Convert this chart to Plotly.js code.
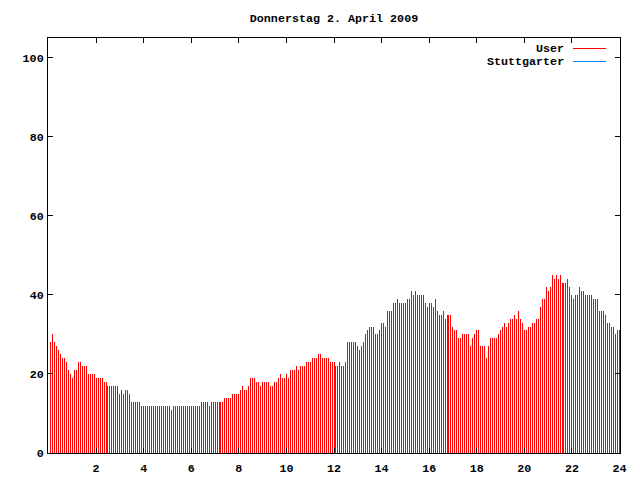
<!DOCTYPE html>
<html>
<head>
<meta charset="utf-8">
<script src="https://cdn.plot.ly/plotly-3.0.1.min.js"></script>
<style>html,body{margin:0;padding:0;background:#fff;}#chart{width:640px;height:480px;}</style>
</head>
<body>
<div id="chart"></div>
<script>
// Chart data (5-minute samples)
const titleText = "Donnerstag 2. April 2009";
const sampleStepMinutes = 5;
const userValues = [
  28,30,28,27,26,25,24,24,23,21,20,19,21,21,23,23,22,22,22,20,20,20,20,19,19,19,19,18,18,17,17,17,17,17,17,15,16,15,16,16,15,13,13,13,13,13,12,12,
  12,12,12,12,12,12,12,12,12,12,12,12,12,11,12,12,12,12,12,12,12,12,12,12,12,12,12,12,13,13,13,13,12,13,13,13,13,13,13,13,14,14,14,14,15,15,15,15,16,
  17,16,16,17,19,19,19,18,18,17,18,18,18,18,17,17,18,18,19,20,19,19,20,19,21,21,21,22,21,22,22,22,23,23,23,24,24,24,25,25,24,24,24,24,23,23,23,22,
  22,23,22,22,23,28,28,28,28,28,27,26,27,28,30,31,32,32,32,30,30,31,33,33,32,36,36,36,38,38,39,38,38,38,38,39,39,41,40,41,40,40,40,40,38,37,38,38,
  37,39,36,35,35,36,34,35,35,35,32,31,31,29,29,30,30,30,30,27,29,30,31,31,27,27,27,24,27,29,29,29,29,30,31,32,33,32,33,34,34,35,34,36,34,33,31,31,32,
  32,33,33,34,34,37,39,39,42,41,42,45,44,45,44,45,43,43,43,44,42,40,39,40,40,42,41,41,40,40,40,40,39,39,39,36,36,36,35,33,33,32,32,30,31,31
];
const seriesNames = ["User", "Stuttgarter"];
const seriesColors = ["#ff0000", "#0080ff"];
const xTickValues = [2, 4, 6, 8, 10, 12, 14, 16, 18, 20, 22, 24];
const yTickValues = [0, 20, 40, 60, 80, 100];

// time of each sample in hours
const sampleHours = userValues.map((v, i) => (i + 1) * sampleStepMinutes / 60);

const W = 640, H = 480;
const margin = {l: 48, r: 20, t: 38, b: 27, pad: 0};
const plotW = W - margin.l - margin.r;          // 572 px
const plotH = H - margin.t - margin.b;
const onePixelHours = 24 / (plotW - 1);          // 24 h span 571 px
// half-pixel margins so 1px impulses land on whole pixel columns like the original
const xRange = [-0.5 * onePixelHours, 24 + 0.5 * onePixelHours];
const yRange = [0, 105];

const fontFamily = "'Liberation Mono', 'DejaVu Sans Mono', monospace";
const baseFont = {family: fontFamily, size: 11.7, color: "#000", weight: "bold"};

const traces = [{
  type: "bar",
  name: seriesNames[0],
  x: sampleHours,
  y: userValues,
  width: onePixelHours,
  marker: {color: "rgba(255,0,0,0.995)", line: {width: 0}},
  showlegend: false,
  hoverinfo: "skip"
}];

// gnuplot-style key: text on the left, sample line on the right
const px2x = px => (px - margin.l) / plotW;
const px2y = py => (margin.t + plotH - py) / plotH;
const keyRows = [48, 61];
const annotations = seriesNames.map((name, k) => ({
  text: name, xref: "paper", yref: "paper",
  x: px2x(566), y: px2y(keyRows[k] + 1), xanchor: "right", yanchor: "middle",
  showarrow: false, font: baseFont
}));
const shapes = seriesNames.map((name, k) => ({
  type: "line", xref: "paper", yref: "paper",
  x0: px2x(573), x1: px2x(606), y0: px2y(keyRows[k] + 0.5), y1: px2y(keyRows[k] + 0.5),
  line: {color: seriesColors[k], width: 1}
}));

const axisCommon = {
  ticks: "inside", ticklen: 5, tickwidth: 1, tickcolor: "#000",
  showline: true, linecolor: "#000", linewidth: 1, mirror: "ticks",
  showgrid: false, zeroline: false, fixedrange: true,
  tickfont: baseFont
};

const layout = {
  width: W, height: H, margin: margin,
  paper_bgcolor: "#fff", plot_bgcolor: "#fff",
  showlegend: false,
  bargap: 0, bargroupgap: 0,
  title: {
    text: titleText, font: baseFont,
    xref: "paper", x: 0.5, xanchor: "center",
    yref: "container", y: 1 - 18 / H, yanchor: "middle"
  },
  xaxis: Object.assign({}, axisCommon, {
    range: xRange, tickmode: "array", tickvals: xTickValues,
    ticktext: xTickValues.map(String), ticklabelstandoff: 4
  }),
  yaxis: Object.assign({}, axisCommon, {
    range: yRange, tickmode: "array", tickvals: yTickValues,
    ticktext: yTickValues.map(String), ticklabelstandoff: 1
  }),
  annotations: annotations,
  shapes: shapes
};

Plotly.newPlot("chart", traces, layout, {displayModeBar: false, responsive: false});
</script>
</body>
</html>
